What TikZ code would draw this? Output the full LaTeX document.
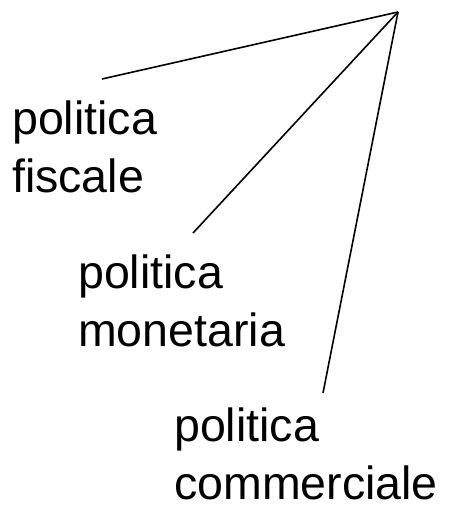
\documentclass[tikz,border=0pt]{standalone}
\usepackage{fontspec}
\setmainfont{Liberation Sans}
\begin{document}
\begin{tikzpicture}[x=1pt,y=-1pt,
  lbl/.style={anchor=base west,inner sep=0pt,align=left,font=\fontsize{46.5}{58}\selectfont},
  ray/.style={line width=1.6pt}]
\useasboundingbox (0,0) rectangle (450,510);
\coordinate (apex) at (398,12);
\coordinate (e1) at (102,79);
\coordinate (e2) at (193,233);
\coordinate (e3) at (323,393);
\draw[ray] (apex) -- (e1);
\draw[ray] (apex) -- (e2);
\draw[ray] (apex) -- (e3);
\node[lbl] (fiscale) at (12,193) {politica\\fiscale};
\node[lbl] (monetaria) at (78,346) {politica\\monetaria};
\node[lbl] (commerciale) at (174,499) {politica\\commerciale};
\end{tikzpicture}
\end{document}
